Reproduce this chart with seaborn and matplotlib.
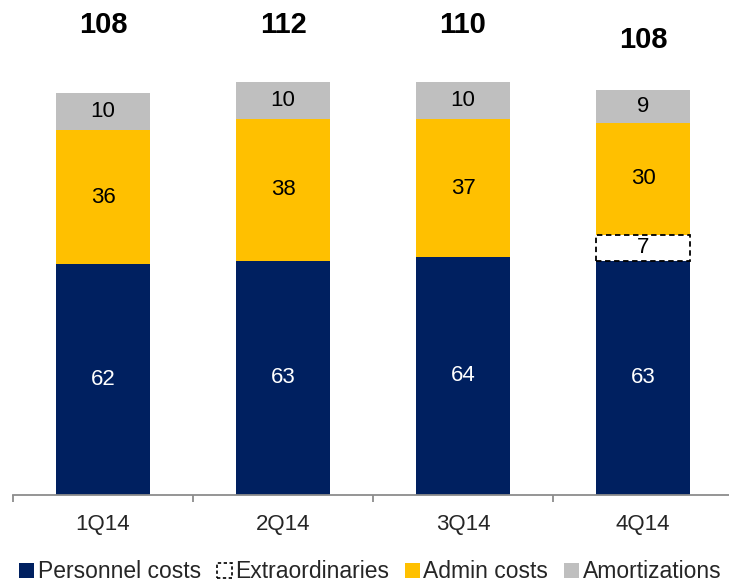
import matplotlib
matplotlib.use("Agg")
import matplotlib.pyplot as plt
from matplotlib.patches import Patch
import seaborn as sns
import pandas as pd

sns.set_theme(style="white")
plt.rcParams["font.family"] = ["Liberation Sans", "DejaVu Sans"]

quarters = ["1Q14", "2Q14", "3Q14", "4Q14"]
personnel = [62, 63, 64, 63]
extraordinaries = [0, 0, 0, 7]
admin = [36, 38, 37, 30]
amortizations = [10, 10, 10, 9]
totals = [108, 112, 110, 108]
total_label_y = [126.3, 126.3, 126.3, 122.3]

NAVY = "#002060"
GOLD = "#FFC000"
GREY = "#BFBFBF"

W, H = 729, 585
fig = plt.figure(figsize=(W / 100, H / 100), dpi=100)
ax = fig.add_axes([13 / W, 1 - 495 / H, 720 / W, (495 - 11.4) / H])

df = pd.DataFrame({
    "quarter": quarters,
    "personnel": personnel,
    "extra": extraordinaries,
    "admin": admin,
    "amort": amortizations,
})
df["base_admin"] = df["personnel"] + df["extra"]
df["base_amort"] = df["base_admin"] + df["admin"]

bw = 0.52
sns.barplot(data=df, x="quarter", y="personnel", order=quarters, color=NAVY,
            saturation=1, width=bw, ax=ax, edgecolor="none", linewidth=0)
sns.barplot(data=df, x="quarter", y="admin", order=quarters, color=GOLD,
            saturation=1, width=bw, ax=ax, bottom=df["base_admin"].values,
            edgecolor="none", linewidth=0)
sns.barplot(data=df, x="quarter", y="amort", order=quarters, color=GREY,
            saturation=1, width=bw, ax=ax, bottom=df["base_amort"].values,
            edgecolor="none", linewidth=0)

# one-off items only where they occur
extra_df = df[df["extra"] > 0]
sns.barplot(data=extra_df, x="quarter", y="extra", order=quarters, color="white",
            saturation=1, width=bw, ax=ax, bottom=extra_df["personnel"].values,
            edgecolor="black", linewidth=1.3, linestyle=(0, (3, 2)))

cont = ax.containers
ax.bar_label(cont[0], labels=[str(v) for v in personnel], label_type="center",
             color="white", fontsize=16)
ax.bar_label(cont[1], labels=[str(v) for v in admin], label_type="center",
             color="black", fontsize=16)
ax.bar_label(cont[2], labels=[str(v) for v in amortizations], label_type="center",
             color="black", fontsize=16)
ax.bar_label(cont[3], labels=[str(v) for v in extra_df["extra"]], label_type="center",
             color="black", fontsize=16)

for i, (t, ty) in enumerate(zip(totals, total_label_y)):
    ax.text(i, ty, str(t), ha="center", va="center", fontsize=21,
            fontweight="bold", color="black")

ax.set_xlim(-0.5, 3.5)
ax.set_ylim(0, 130)
ax.set_xlabel("")
ax.set_ylabel("")
ax.set_yticks([])
for s in ["top", "right", "left"]:
    ax.spines[s].set_visible(False)
ax.spines["bottom"].set_color("#8C8C8C")
ax.spines["bottom"].set_linewidth(1.3)

ax.set_xticks(range(4))
ax.set_xticklabels(quarters, fontsize=16)
ax.set_xticks([-0.5, 0.5, 1.5, 2.5, 3.5], minor=True)
ax.tick_params(axis="x", which="major", length=0, pad=14)
ax.tick_params(axis="x", which="minor", length=5, width=1.3, color="#8C8C8C",
               direction="out", bottom=True)

handles = [
    Patch(facecolor=NAVY, edgecolor="none", label="Personnel costs"),
    Patch(facecolor="white", edgecolor="black", linestyle=(0, (2, 1.5)),
          linewidth=1.2, label="Extraordinaries"),
    Patch(facecolor=GOLD, edgecolor="none", label="Admin costs"),
    Patch(facecolor=GREY, edgecolor="none", label="Amortizations"),
]
fig.legend(handles=handles, loc="center", bbox_to_anchor=(0.508, 1 - 572 / H),
           ncol=4, frameon=False, handlelength=0.65, handleheight=0.65,
           handletextpad=0.15, columnspacing=0.7,
           prop={"family": ["Liberation Sans"], "size": 16.5})

fig.savefig("out.png", dpi=100)
